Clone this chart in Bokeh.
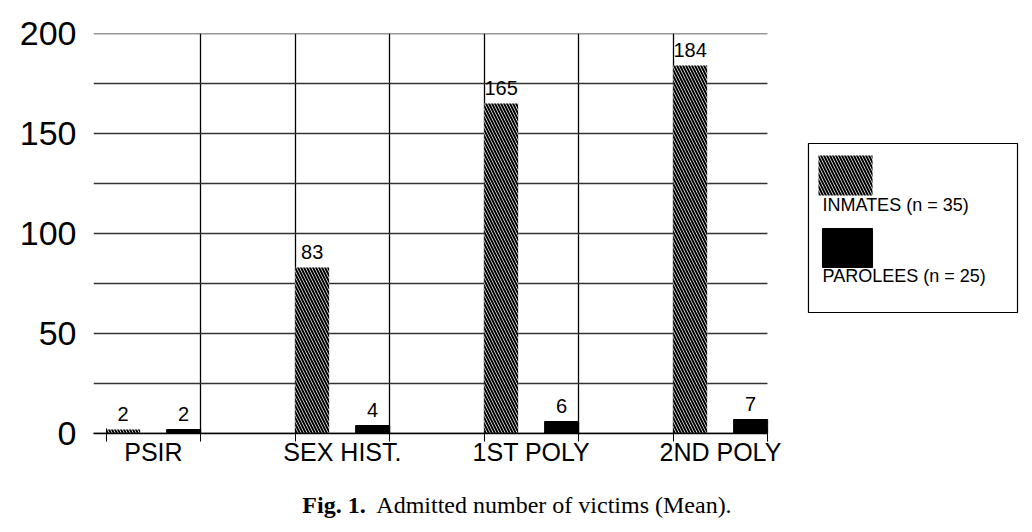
from bokeh.models import ColumnDataSource, FixedTicker, Range1d, Div
from bokeh.layouts import column
from bokeh.plotting import figure
from bokeh.transform import dodge
from bokeh.core.properties import value
from bokeh.embed import file_html
from bokeh.resources import INLINE

# data
CATEGORIES = ["PSIR", "SEX HIST.", "1ST POLY", "2ND POLY"]
INMATES = [2, 83, 165, 184]
PAROLEES = [2, 4, 6, 7]
Y_TICKS = [0, 50, 100, 150, 200]
GRID_STEP = 25

INMATES_LABEL = "INMATES (n = 35)"
PAROLEES_LABEL = "PAROLEES (n = 25)"
CAPTION = "<b>Fig. 1.</b>&nbsp; Admitted number of victims (Mean)."

FONT = "Liberation Sans"
X_LO, X_HI = -0.317, 3.249   # extent of the chart area (legend sits to the right)

xs = list(range(len(CATEGORIES)))
src = ColumnDataSource(data=dict(
    x=xs,
    inmates=INMATES,
    parolees=PAROLEES,
    inm_txt=[str(v) for v in INMATES],
    par_txt=[str(v) for v in PAROLEES],
))

p = figure(width=1024, height=486, output_backend="svg", toolbar_location=None,
           x_range=Range1d(X_LO, 4.609), y_range=Range1d(0, 200),
           min_border_left=93, min_border_right=0, min_border_top=33, min_border_bottom=53)
p.outline_line_color = None
p.background_fill_color = "white"

# horizontal rules, only across the chart part
ys = list(range(0, Y_TICKS[-1] + 1, GRID_STEP))
p.segment(x0=[X_LO] * len(ys), x1=[X_HI] * len(ys), y0=ys, y1=ys,
          line_color="#333333", line_width=1.5)
p.ygrid.visible = False

# vertical rules at the bar edges
edges = [c + d for c in xs for d in (-0.25, 0.25)]
p.xgrid.ticker = FixedTicker(ticks=edges[1:-1])
p.xgrid.grid_line_color = "black"
p.xgrid.grid_line_width = 1.3

HATCH = dict(hatch_pattern="left_diagonal_line", hatch_color="black",
             hatch_scale=6, hatch_weight=2)

# bars
inm = p.vbar(x=dodge("x", -0.16, range=p.x_range), top="inmates", width=0.18, source=src,
             fill_color="white", line_color=None, **HATCH)
par = p.vbar(x=dodge("x", 0.16, range=p.x_range), top="parolees", width=0.18, source=src,
             fill_color="black", line_color="black")

# value labels
lab_kw = dict(text_font=value(FONT), text_font_size="20px", text_align="center",
              text_baseline="middle", y_offset=-16, text_color="black")
p.text(x=dodge("x", -0.16, range=p.x_range), y="inmates", text="inm_txt", source=src, **lab_kw)
p.text(x=dodge("x", 0.16, range=p.x_range), y="parolees", text="par_txt", source=src, **lab_kw)

# axes
p.yaxis.ticker = FixedTicker(ticks=Y_TICKS)
p.yaxis.axis_line_color = None
p.yaxis.major_tick_line_color = None
p.yaxis.minor_tick_line_color = None
p.yaxis.major_label_text_font = FONT
p.yaxis.major_label_text_font_size = "34px"
p.yaxis.major_label_text_color = "black"
p.yaxis.major_label_standoff = 11

p.xaxis.ticker = FixedTicker(ticks=xs, minor_ticks=edges)
p.xaxis.bounds = (X_LO, X_HI)
p.xaxis.major_label_overrides = {i: c for i, c in enumerate(CATEGORIES)}
p.xaxis.axis_line_color = "black"
p.xaxis.axis_line_width = 1.5
p.xaxis.major_tick_line_color = None
p.xaxis.major_tick_out = 0
p.xaxis.minor_tick_line_color = "black"
p.xaxis.minor_tick_in = 5
p.xaxis.minor_tick_out = 8
p.xaxis.major_label_text_font = FONT
p.xaxis.major_label_text_font_size = "25px"
p.xaxis.major_label_text_color = "black"
p.xaxis.major_label_standoff = -4

# legend box: swatch with its text underneath
p.quad(left=[3.466], right=[4.572], bottom=[60.5], top=[145],
       fill_color="white", line_color="black", line_width=1.2)
p.quad(left=[3.519], right=[3.805], bottom=[119], top=[139],
       fill_color="white", line_color=None, **HATCH)
p.quad(left=[3.540], right=[3.805], bottom=[83], top=[102.5],
       fill_color="black", line_color="black")
p.text(x=[3.540, 3.540], y=[114.5, 79], text=[INMATES_LABEL, PAROLEES_LABEL],
       text_font=value(FONT), text_font_size="18px", text_baseline="middle",
       text_align="left", text_color="black")

caption = Div(text=CAPTION, width=1024, height=38,
              styles={"text-align": "center", "font-family": "Liberation Serif",
                      "font-size": "24px", "width": "1024px", "margin-top": "2px"})

layout = column(p, caption, spacing=0)
open("out.html", "w").write(file_html(layout, INLINE))
